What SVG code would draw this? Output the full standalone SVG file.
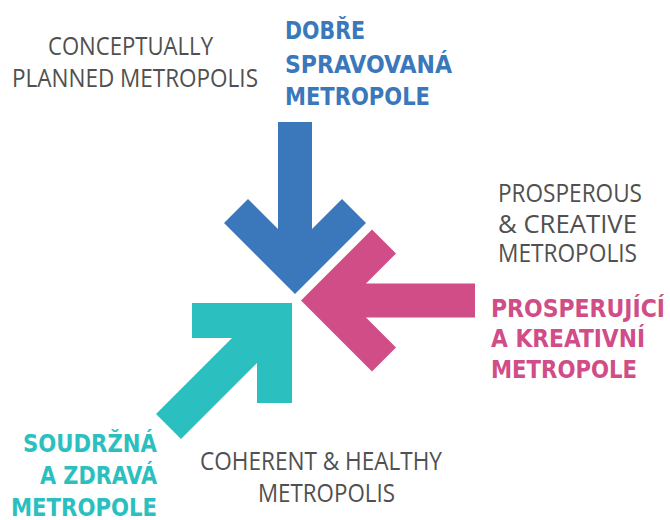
<svg xmlns="http://www.w3.org/2000/svg" width="670" height="520" viewBox="0 0 670 520">
  <style>
    .en { font-family: "Open Sans", "Liberation Sans", sans-serif; font-weight: 400; font-size: 25px; fill: #505050; }
    .cz { font-family: "DejaVu Sans Condensed", "DejaVu Sans", sans-serif; font-weight: bold; font-size: 25px; }
    .blue { fill: #3a78bb; }
    .pink { fill: #d04d87; }
    .teal { fill: #2bbfbf; }
  </style>
  <rect width="670" height="520" fill="#ffffff"/>

  <!-- arrows converging on the centre -->
  <g id="arrows">
    <polygon id="arrow-down" class="blue" points="278,122 312,122 312,229 342,199 366,223 295,294 224,223 248,199 278,229"/>
    <polygon id="arrow-left" class="pink" points="475,283.5 366,283.5 396,253.5 372,229.5 301,300.5 372,371.5 396,347.5 366,317.5 475,317.5"/>
    <polygon id="arrow-up-right" class="teal" points="192,303 292,303 292,403 257,403 257,363 181,439 156,414 232,338 192,338"/>
  </g>

  <g id="planned">
    <text class="en" x="48" y="55" textLength="165" lengthAdjust="spacingAndGlyphs">CONCEPTUALLY</text>
    <text class="en" x="12" y="87" textLength="246" lengthAdjust="spacingAndGlyphs">PLANNED METROPOLIS</text>
    <text class="cz blue" x="285" y="39" textLength="80" lengthAdjust="spacingAndGlyphs">DOBŘE</text>
    <text class="cz blue" x="285" y="73" textLength="167" lengthAdjust="spacingAndGlyphs">SPRAVOVANÁ</text>
    <text class="cz blue" x="285" y="105" textLength="145" lengthAdjust="spacingAndGlyphs">METROPOLE</text>
  </g>

  <g id="prosperous">
    <text class="en" x="498" y="202" textLength="144" lengthAdjust="spacingAndGlyphs">PROSPEROUS</text>
    <text class="en" x="498" y="233" textLength="139" lengthAdjust="spacingAndGlyphs">&amp; CREATIVE</text>
    <text class="en" x="498" y="262" textLength="139" lengthAdjust="spacingAndGlyphs">METROPOLIS</text>
    <text class="cz pink" x="491" y="317" textLength="174" lengthAdjust="spacingAndGlyphs">PROSPERUJÍCÍ</text>
    <text class="cz pink" x="491" y="347" textLength="154" lengthAdjust="spacingAndGlyphs">A KREATIVNÍ</text>
    <text class="cz pink" x="491" y="378" textLength="146" lengthAdjust="spacingAndGlyphs">METROPOLE</text>
  </g>

  <g id="coherent">
    <text class="en" x="200" y="470" textLength="242" lengthAdjust="spacingAndGlyphs">COHERENT &amp; HEALTHY</text>
    <text class="en" x="258" y="502" textLength="137" lengthAdjust="spacingAndGlyphs">METROPOLIS</text>
    <text class="cz teal" x="23" y="452" textLength="134" lengthAdjust="spacingAndGlyphs">SOUDRŽNÁ</text>
    <text class="cz teal" x="40" y="484" textLength="117" lengthAdjust="spacingAndGlyphs">A ZDRAVÁ</text>
    <text class="cz teal" x="11" y="516" textLength="146" lengthAdjust="spacingAndGlyphs">METROPOLE</text>
  </g>
</svg>
